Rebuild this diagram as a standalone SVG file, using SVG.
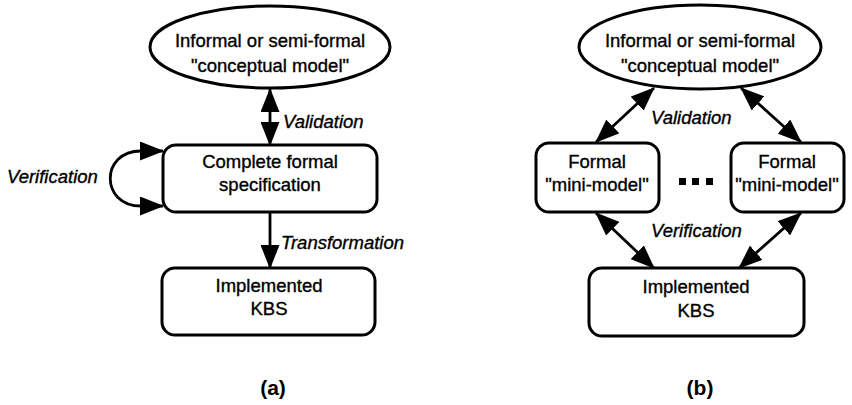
<svg xmlns="http://www.w3.org/2000/svg" width="852" height="405" viewBox="0 0 852 405">
<style>
.n{fill:#fff;stroke:#000;stroke-width:3}
.t{font-family:"Liberation Sans",Arial,sans-serif;font-size:18.5px;fill:#000;stroke:#000;stroke-width:0.35;text-anchor:middle}
.l{font-family:"Liberation Sans",Arial,sans-serif;font-size:18.5px;font-style:italic;fill:#000;stroke:#000;stroke-width:0.35}
.c{fill:none;stroke:#000;stroke-width:2.8}
.cap{font-family:"Liberation Sans",Arial,sans-serif;font-size:21px;font-weight:bold;fill:#000;text-anchor:middle}
</style>
<defs>
<marker id="ah" markerUnits="userSpaceOnUse" markerWidth="24" markerHeight="19" refX="23" refY="9.5" orient="auto-start-reverse" viewBox="0 0 24 19">
<path d="M0,0 L24,9.5 L0,19 z" fill="#000"/>
</marker>
</defs>
<g id="connectors">
<line class="c" x1="270" y1="89" x2="270" y2="145" marker-start="url(#ah)" marker-end="url(#ah)"/>
<path class="c" d="M163,151 L141,151 C100,151 100,206 141,206 L163,206" marker-start="url(#ah)" marker-end="url(#ah)"/>
<line class="c" x1="270" y1="212" x2="270" y2="268" marker-end="url(#ah)"/>
<line class="c" x1="654" y1="88" x2="596" y2="142" marker-start="url(#ah)" marker-end="url(#ah)"/>
<line class="c" x1="741" y1="88" x2="801" y2="142" marker-start="url(#ah)" marker-end="url(#ah)"/>
<line class="c" x1="596" y1="213" x2="654" y2="268" marker-start="url(#ah)" marker-end="url(#ah)"/>
<line class="c" x1="801" y1="213" x2="739" y2="268" marker-start="url(#ah)" marker-end="url(#ah)"/>
<text class="l" x="283" y="128">Validation</text>
<text class="l" x="7" y="183">Verification</text>
<text class="l" x="281" y="249">Transformation</text>
<text class="l" x="651" y="124">Validation</text>
<text class="l" x="651" y="237">Verification</text>
</g>
<g id="a-conceptual">
<ellipse class="n" cx="270" cy="47" rx="120" ry="41"/>
<text class="t" x="270" y="47">Informal or semi-formal</text>
<text class="t" x="270" y="72">"conceptual model"</text>
</g>
<g id="a-spec">
<rect class="n" x="163" y="145" width="214" height="67" rx="13"/>
<text class="t" x="270" y="168">Complete formal</text>
<text class="t" x="270" y="191">specification</text>
</g>
<g id="a-kbs">
<rect class="n" x="162" y="268" width="213" height="67" rx="13"/>
<text class="t" x="269" y="292">Implemented</text>
<text class="t" x="269" y="315">KBS</text>
</g>
<text class="cap" x="273" y="395">(a)</text>
<g id="b-conceptual">
<ellipse class="n" cx="700" cy="47" rx="121" ry="42"/>
<text class="t" x="700" y="47">Informal or semi-formal</text>
<text class="t" x="700" y="72">"conceptual model"</text>
</g>
<g id="b-mini1">
<rect class="n" x="536" y="143" width="123" height="69" rx="13"/>
<text class="t" x="597" y="168">Formal</text>
<text class="t" x="597" y="191">"mini-model"</text>
</g>
<g id="b-dots">
<rect x="679" y="178" width="7" height="7" fill="#000"/>
<rect x="692" y="178" width="7" height="7" fill="#000"/>
<rect x="706" y="178" width="7" height="7" fill="#000"/>
</g>
<g id="b-mini2">
<rect class="n" x="731" y="143" width="113" height="69" rx="13"/>
<text class="t" x="787" y="168">Formal</text>
<text class="t" x="787" y="191">"mini-model"</text>
</g>
<g id="b-kbs">
<rect class="n" x="589" y="268" width="215" height="68" rx="13"/>
<text class="t" x="696" y="293">Implemented</text>
<text class="t" x="696" y="317">KBS</text>
</g>
<text class="cap" x="700" y="395">(b)</text>
</svg>
